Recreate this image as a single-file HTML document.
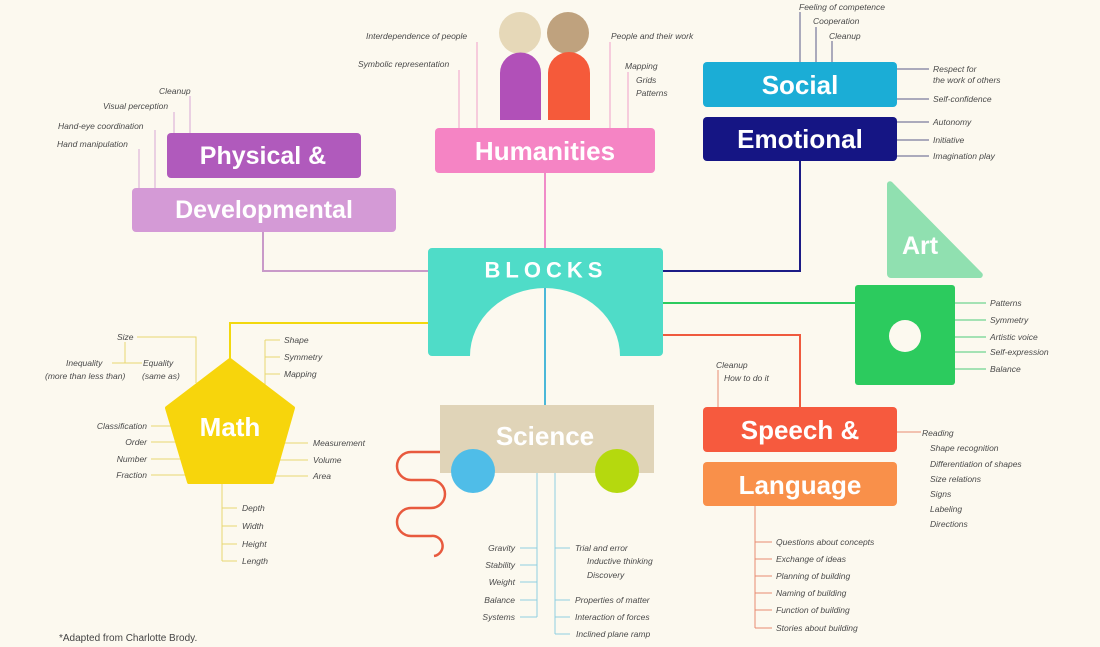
<!DOCTYPE html>
<html><head><meta charset="utf-8"><style>
html,body{margin:0;padding:0;background:#fcf9ef}
svg{display:block}
.l{font-family:"Liberation Sans",sans-serif;font-style:italic;font-size:8.5px;fill:#4a4a4a}
.b{font-family:"Liberation Sans",sans-serif;font-weight:bold;fill:#fff;text-anchor:middle;dominant-baseline:central}
</style></head><body>
<svg width="1100" height="647" viewBox="0 0 1100 647" xmlns="http://www.w3.org/2000/svg">
<rect width="1100" height="647" fill="#fcf9ef"/>
<!-- connectors to blocks -->
<g fill="none" stroke-width="2">
<path d="M263 232V271H428" stroke="#c99ac9"/>
<path d="M545 173V248" stroke="#f08cc8"/>
<path d="M800 161V271H663" stroke="#1c1c86"/>
<path d="M230 360V323H428" stroke="#f2d80e"/>
<path d="M663 303H855" stroke="#2ccb5e"/>
<path d="M663 335H800V407" stroke="#ef5a3e"/>
<path d="M545 356V405" stroke="#4bb8d8"/>
</g>
<!-- small lines -->
<g fill="none" stroke-width="1">
<g stroke="#d9a6d6"><path d="M190 96V133M174 112V133M155 130V188M139 149V188"/></g>
<g stroke="#efa0c8"><path d="M477 42V128M459 70V128M610 42V128M628 72V128"/></g>
<g stroke="#5a5a8a"><path d="M800 12V62M816 27V62M832 41V62M897 69H929M897 99H929M897 122H929M897 140H929M897 156H929"/></g>
<g stroke="#e8d870"><path d="M137 337H196V383M125 342V363M112 363H142M265 340V385M265 340H280M265 357H280M265 374H280M151 426H180M151 442H186M151 459H192M151 475H196M282 443H308M278 460H308M274 476H308M222 482V561M222 508H237M222 526H237M222 544H237M222 561H237"/></g>
<g stroke="#8fd0e0"><path d="M537 473V617M520 548H537M520 565H537M520 582H537M520 600H537M520 617H537M555 473V634M555 548H570M555 600H570M555 617H570M555 634H570"/></g>
<g stroke="#4ccc7a"><path d="M955 303H986M955 320H986M955 337H986M955 352H986M955 369H986"/></g>
<g stroke="#e88a70"><path d="M718 370V407M897 432H921M755 506V628M755 542H772M755 559H772M755 576H772M755 593H772M755 610H772M755 628H772"/></g>
</g>
<!-- Physical -->
<rect x="167" y="133" width="194" height="45" rx="4" fill="#b05abc"/>
<text class="b" x="263" y="156" font-size="25">Physical &amp;</text>
<rect x="132" y="188" width="264" height="44" rx="4" fill="#d49ad6"/>
<text class="b" x="264" y="210" font-size="25">Developmental</text>
<!-- Humanities -->
<circle cx="520" cy="33" r="21" fill="#e6d8b8"/>
<path d="M500 120V73a20.5 20.5 0 0 1 41 0V120Z" fill="#b150b8"/>
<circle cx="568" cy="33" r="21" fill="#bfa27e"/>
<path d="M548 120V73a21 21 0 0 1 42 0V120Z" fill="#f55a3a"/>
<rect x="435" y="128" width="220" height="45" rx="4" fill="#f584c4"/>
<text class="b" x="545" y="151" font-size="26">Humanities</text>
<!-- Social/Emotional -->
<rect x="703" y="62" width="194" height="45" rx="4" fill="#1badd6"/>
<text class="b" x="800" y="85" font-size="26">Social</text>
<rect x="703" y="117" width="194" height="44" rx="4" fill="#151584"/>
<text class="b" x="800" y="139" font-size="26">Emotional</text>
<!-- Blocks -->
<path d="M432 248H659a4 4 0 0 1 4 4V352a4 4 0 0 1-4 4H620A75 68 0 0 0 470 356H432a4 4 0 0 1-4-4V252a4 4 0 0 1 4-4Z" fill="#4fdcc8"/>
<path d="M545 288V356" stroke="#4bb8d8" stroke-width="2"/>
<text class="b" x="546" y="270" font-size="22" letter-spacing="5">BLOCKS</text>
<!-- Art -->
<path d="M887 184V274a4 4 0 0 0 4 4H980a3 3 0 0 0 2-5L892 182a3 3 0 0 0-5 2Z" fill="#90e0b0"/>
<text class="b" x="920" y="246" font-size="25">Art</text>
<rect x="855" y="285" width="100" height="100" rx="3" fill="#2ccb5e"/>
<circle cx="905" cy="336" r="16" fill="#fcf9ef"/>
<!-- Math -->
<path d="M230 360L293 408L272 482H189L167 408Z" fill="#f7d50c" stroke="#f7d50c" stroke-width="4" stroke-linejoin="round"/>
<text class="b" x="230" y="427" font-size="26">Math</text>
<!-- Science -->
<path d="M446 452H411A14 14 0 0 0 411 480H431A14 14 0 0 1 431 508H411A14 14 0 0 0 411 536H431A10 10 0 0 1 434 556" fill="none" stroke="#e85a3e" stroke-width="2.5"/>
<rect x="440" y="405" width="214" height="68" fill="#e0d4b8"/>
<text class="b" x="545" y="436" font-size="26">Science</text>
<circle cx="473" cy="471" r="22" fill="#4fbde8"/>
<circle cx="617" cy="471" r="22" fill="#b5d90e"/>
<!-- Speech -->
<rect x="703" y="407" width="194" height="45" rx="4" fill="#f65a3e"/>
<text class="b" x="800" y="430" font-size="26">Speech &amp;</text>
<rect x="703" y="462" width="194" height="44" rx="4" fill="#f9904a"/>
<text class="b" x="800" y="485" font-size="26">Language</text>
<!-- labels -->
<g class="l">
<text x="159" y="94">Cleanup</text>
<text x="103" y="109">Visual perception</text>
<text x="58" y="129">Hand-eye coordination</text>
<text x="57" y="147">Hand manipulation</text>
<text x="366" y="39">Interdependence of people</text>
<text x="358" y="67">Symbolic representation</text>
<text x="611" y="39">People and their work</text>
<text x="625" y="69">Mapping</text>
<text x="636" y="83">Grids</text>
<text x="636" y="96">Patterns</text>
<text x="799" y="10">Feeling of competence</text>
<text x="813" y="24">Cooperation</text>
<text x="829" y="39">Cleanup</text>
<text x="933" y="72">Respect for</text>
<text x="933" y="83">the work of others</text>
<text x="933" y="102">Self-confidence</text>
<text x="933" y="125">Autonomy</text>
<text x="933" y="143">Initiative</text>
<text x="933" y="159">Imagination play</text>
<text x="117" y="340">Size</text>
<text x="66" y="366">Inequality</text>
<text x="45" y="379">(more than less than)</text>
<text x="143" y="366">Equality</text>
<text x="142" y="379">(same as)</text>
<text x="284" y="343">Shape</text>
<text x="284" y="360">Symmetry</text>
<text x="284" y="377">Mapping</text>
<g text-anchor="end"><text x="147" y="429">Classification</text><text x="147" y="445">Order</text><text x="147" y="462">Number</text><text x="147" y="478">Fraction</text></g>
<text x="313" y="446">Measurement</text>
<text x="313" y="463">Volume</text>
<text x="313" y="479">Area</text>
<text x="242" y="511">Depth</text>
<text x="242" y="529">Width</text>
<text x="242" y="547">Height</text>
<text x="242" y="564">Length</text>
<g text-anchor="end"><text x="515" y="551">Gravity</text><text x="515" y="568">Stability</text><text x="515" y="585">Weight</text><text x="515" y="603">Balance</text><text x="515" y="620">Systems</text></g>
<text x="575" y="551">Trial and error</text>
<text x="587" y="564">Inductive thinking</text>
<text x="587" y="578">Discovery</text>
<text x="575" y="603">Properties of matter</text>
<text x="575" y="620">Interaction of forces</text>
<text x="576" y="637">Inclined plane ramp</text>
<text x="990" y="306">Patterns</text>
<text x="990" y="323">Symmetry</text>
<text x="990" y="340">Artistic voice</text>
<text x="990" y="355">Self-expression</text>
<text x="990" y="372">Balance</text>
<text x="716" y="368">Cleanup</text>
<text x="724" y="381">How to do it</text>
<text x="922" y="436">Reading</text>
<text x="930" y="451">Shape recognition</text>
<text x="930" y="467">Differentiation of shapes</text>
<text x="930" y="482">Size relations</text>
<text x="930" y="497">Signs</text>
<text x="930" y="512">Labeling</text>
<text x="930" y="527">Directions</text>
<text x="776" y="545">Questions about concepts</text>
<text x="776" y="562">Exchange of ideas</text>
<text x="776" y="579">Planning of building</text>
<text x="776" y="596">Naming of building</text>
<text x="776" y="613">Function of building</text>
<text x="776" y="631">Stories about building</text>
</g>
<text x="59" y="641" font-family="Liberation Sans,sans-serif" font-size="10" fill="#444">*Adapted from Charlotte Brody.</text>
</svg>
</body></html>
